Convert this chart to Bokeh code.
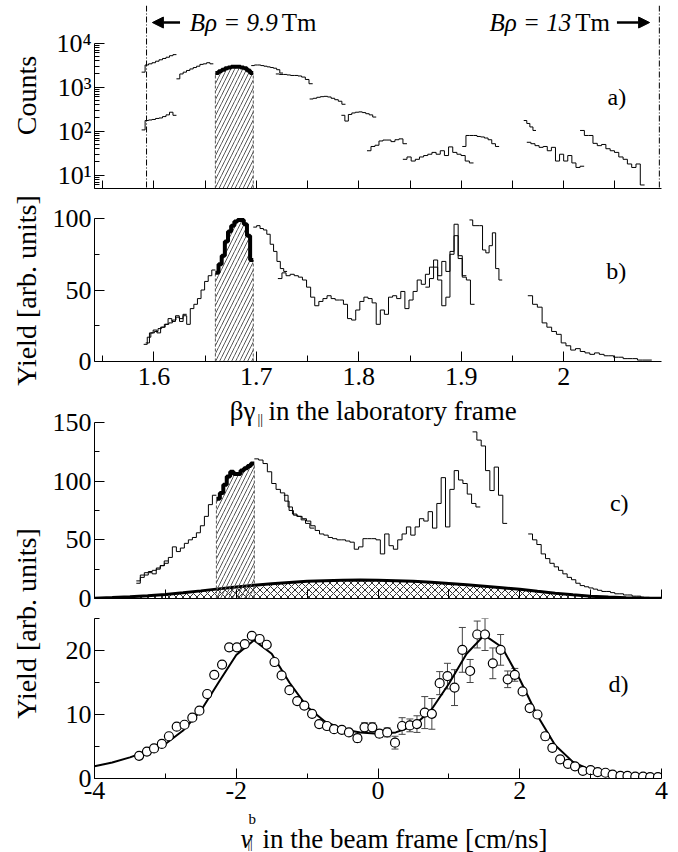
import math
import numpy as np
from bokeh.plotting import figure
from bokeh.layouts import row, column
from bokeh.models import (Range1d, FixedTicker, Span, Arrow, NormalHead,
                          Whisker, TeeHead, ColumnDataSource)
from bokeh.core.properties import value
from bokeh.embed import file_html
from bokeh.resources import INLINE

FONT = "Liberation Serif"

# ---------------- data ----------------
# x ticks (beta*gamma)
bg_major = [1.6, 1.7, 1.8, 1.9, 2.0]
bg_minor = [1.55, 1.65, 1.75, 1.85, 1.95, 2.05]
bg_all = [1.55, 1.6, 1.65, 1.7, 1.75, 1.8, 1.85, 1.9, 1.95, 2.0, 2.05]
bg_labels = ["1.6", "1.7", "1.8", "1.9", "2"]
brho_lines = [1.5928, 2.0934]

# panel a: counts, segments (x start, x end) and bin contents
a1_x = (1.588, 1.622); a1_y = [2200, 3200, 3400, 3600, 3900, 4200, 4500, 4800, 5200, 5500]
a2_x = (1.588, 1.622); a2_y = [107, 175, 180, 185, 195, 200, 215, 235, 270, 230]
a3_x = (1.622, 1.658); a3_y = [1550, 2000, 2200, 2400, 2600, 2800, 3000, 3300, 3400, 3600, 3400]
a_sel_x = (1.660, 1.697); a_sel_y = [2100, 2300, 2500, 2700, 2800, 2900, 2900, 2900, 2800, 2700, 2400, 2100]
a4_x = (1.695, 1.726); a4_y = [3100, 3200, 3200, 3100, 3000, 2900, 2800, 2700, 2500, 2100]
a5_x = (1.719, 1.755); a5_y = [2000, 1950, 1950, 1900, 1850, 1850, 1800, 1700, 1500, 1200]
a6_x = (1.752, 1.787); a6_y = [540, 560, 590, 610, 620, 600, 560, 520, 480, 410]
a7_x = (1.783, 1.817); a7_y = [230, 170, 240, 260, 270, 275, 265, 250, 235, 210]
a8_x = (1.808, 1.847); a8_y = [36, 45, 48, 60, 63, 63, 58, 64, 67, 52]
a9_x = (1.843, 1.912); a9_y = [23, 26, 21, 23, 26, 28, 30, 33, 30, 36, 28, 44, 33, 30, 28, 21, 19]
a10_x = (1.901, 1.937); a10_y = [45, 80, 80, 80, 76, 74, 70, 64, 52, 45]
a11_x = (1.961, 1.973); a11_y = [175, 150, 125, 104]
a12_x = (1.964, 2.020); a12_y = [56, 52, 47, 43, 45, 36, 43, 21, 30, 21, 28, 19, 15, 16]
a13_x = (2.016, 2.079); a13_y = [104, 80, 80, 53, 47, 50, 40, 36, 33, 26, 23, 18, 15, 18, 6]
a_thin = [(a1_x, a1_y), (a2_x, a2_y), (a3_x, a3_y), (a4_x, a4_y), (a5_x, a5_y),
          (a6_x, a6_y), (a7_x, a7_y), (a8_x, a8_y), (a9_x, a9_y), (a10_x, a10_y),
          (a11_x, a11_y), (a12_x, a12_y), (a13_x, a13_y)]

# panel b: yield vs beta*gamma
b1_x = (1.590, 1.660); b1_y = [12, 17, 20, 21, 23, 24, 26, 27, 29, 31, 28, 32, 26, 37, 40, 44, 50, 56, 60, 64]
b1b_x = (1.592, 1.632); b1b_y = [13, 20, 22, 20, 24, 26, 30, 28, 32, 30, 33]
b_sel_x = (1.660, 1.697); b_sel_y = [62, 68, 74, 84, 91, 95, 98, 99, 99, 96, 88, 71]
b2_x = (1.697, 1.730); b2_y = [94, 95, 93, 92, 89, 82, 77, 70, 65, 63]
b3_x = (1.721, 1.913); b3_y = [58, 62, 60, 61, 60, 59, 57, 52, 45, 39, 42, 44, 46, 44, 43, 43,
                               40, 30, 29, 36, 42, 45, 44, 41, 26, 36, 33, 45, 46, 44, 49, 37,
                               43, 49, 57, 54, 61, 66, 71, 57, 39, 45, 77, 96, 74, 59, 57, 40]
b4_x = (1.908, 1.940); b4_y = [99, 95, 95, 95, 78, 76, 81, 90, 65, 57]
b5_x = (1.865, 1.905); b5_y = [52, 58, 66, 60, 70, 63, 75, 88, 72, 60]
b6_x = (1.965, 2.086); b6_y = [46, 40, 38, 27, 24, 21, 19, 13, 11, 8, 9, 7, 6, 5, 6, 5, 4, 4,
                               3, 3, 2, 2, 2, 1, 1, 1]
b_thin = [(b1_x, b1_y), (b1b_x, b1b_y), (b2_x, b2_y), (b3_x, b3_y), (b4_x, b4_y),
          (b5_x, b5_y), (b6_x, b6_y)]

# panel c: yield vs beam-frame velocity
c1_x = (-3.41, -2.28); c1_y = [15, 20, 22, 23, 24, 26, 28, 30, 35, 44, 40, 43, 47, 50, 52, 56, 62, 70, 80, 88]
c1b_x = (-3.41, -2.96); c1b_y = [13, 18, 20, 22, 21, 25, 28, 32]
c_sel_x = (-2.28, -1.745); c_sel_y = [85, 90, 97, 104, 108, 106, 106, 109, 111, 113, 115]
c2_x = (-1.745, 1.443); c2_y = [119, 118, 115, 108, 98, 93, 90, 83, 75, 71, 70, 68, 66, 62, 58,
                                55, 54, 52, 51, 50, 50, 49, 48, 42, 44, 51, 51, 51, 50, 38, 55,
                                45, 42, 50, 55, 61, 54, 61, 68, 66, 74, 60, 81, 103, 61, 93,
                                109, 101, 98, 89, 81, 78]
c2b_x = (-1.33, -0.90); c2b_y = [88, 78, 72, 70, 67, 64, 60]
c3_x = (1.334, 1.822); c3_y = [142, 135, 130, 109, 92, 112, 88, 64]
c4_x = (2.119, 3.83); c4_y = [55, 50, 46, 38, 34, 30, 27, 24, 21, 18, 16, 13, 11, 10, 9, 8, 7,
                              6, 6, 5, 4, 4, 3, 3, 2, 2, 1, 1]
c_thin = [(c1_x, c1_y), (c1b_x, c1b_y), (c2_x, c2_y), (c2b_x, c2b_y), (c3_x, c3_y), (c4_x, c4_y)]

g_v = [-4.0, -3.75, -3.5, -3.25, -3.0, -2.75, -2.5, -2.25, -2.0, -1.75, -1.5, -1.25, -1.0,
       -0.75, -0.5, -0.25, 0.0, 0.25, 0.5, 0.75, 1.0, 1.25, 1.5, 1.75, 2.0, 2.25, 2.5, 2.75,
       3.0, 3.25, 3.5, 3.75, 4.0]
g_y = [0.3, 0.8, 1.5, 2.4, 3.5, 4.9, 6.5, 8.2, 9.8, 11.2, 12.5, 13.7, 14.6, 15.2, 15.6, 15.7,
       15.6, 15.2, 14.6, 13.8, 12.8, 11.7, 10.5, 9.2, 7.8, 6.1, 4.5, 3.1, 2.0, 1.2, 0.7, 0.4, 0.2]

# panel d: data points, errors and fit
d_v = [-3.37, -3.26, -3.16, -3.05, -2.95, -2.84, -2.73, -2.62, -2.52, -2.41, -2.31, -2.20,
       -2.10, -1.99, -1.88, -1.78, -1.67, -1.57, -1.46, -1.36, -1.25, -1.14, -1.04, -0.93,
       -0.83, -0.72, -0.62, -0.51, -0.41, -0.29, -0.19, -0.08, 0.02, 0.13, 0.24, 0.34, 0.45,
       0.55, 0.66, 0.76, 0.87, 0.98, 1.08, 1.19, 1.30, 1.40, 1.51, 1.62, 1.73, 1.83, 1.93,
       2.04, 2.14, 2.25, 2.36, 2.46, 2.57, 2.68, 2.78, 2.89, 3.00, 3.10, 3.21, 3.31, 3.42,
       3.52, 3.63, 3.74, 3.84, 3.95]
d_y = [3.55, 4.2, 4.7, 5.4, 6.6, 8.1, 8.4, 9.5, 10.6, 13.2, 16.2, 17.8, 20.5, 20.5, 21.0,
       22.3, 21.8, 20.9, 18.2, 16.1, 13.8, 12.1, 11.4, 10.1, 8.5, 8.2, 7.7, 7.6, 7.2, 6.3,
       8.0, 8.0, 7.0, 7.2, 5.6, 8.2, 8.3, 8.5, 10.3, 10.1, 14.9, 16.0, 14.2, 20.1, 16.8,
       22.5, 22.5, 18.0, 20.1, 15.5, 16.2, 13.6, 11.0, 10.0, 6.6, 4.8, 3.0, 2.3, 1.9, 1.2,
       1.3, 1.0, 0.9, 0.6, 0.4, 0.4, 0.3, 0.3, 0.2, 0.2]
d_err = [0, 0, 0, 0, 0, 0, 0, 0, 0, 0, 0, 0, 0, 0, 0, 0, 0, 0, 0, 0, 0, 0, 0, 0, 0, 0, 0,
         0, 0, 0.6, 0.7, 0.7, 0.6, 0.7, 1.0, 1.3, 1.0, 1.3, 2.5, 2.4, 1.8, 2.0, 2.8, 3.5,
         1.8, 2.1, 2.5, 2.4, 2.4, 1.3, 1.0, 0.4, 0.5, 0.5, 0.6, 0.5, 0.4, 0, 0, 0, 0, 0, 0,
         0, 0, 0, 0, 0, 0, 0]
fit_v = g_v
fit_y = [1.9, 2.5, 3.3, 4.3, 5.4, 7.5, 10.6, 15.0, 19.3, 21.6, 19.5, 15.0, 11.2, 8.9, 7.7,
         7.2, 7.0, 7.2, 8.2, 10.7, 14.8, 19.5, 22.4, 20.5, 15.5, 9.8, 5.2, 2.6, 1.3, 0.7,
         0.4, 0.2, 0.1]

v_major = [-4, -2, 0, 2, 4]
v_minor = [-3, -1, 1, 3]
v_all = [-4, -3, -2, -1, 0, 1, 2, 3, 4]

# ---------------- helpers ----------------
W = 624
LB = 48   # left border of the plot column
RB = 9    # right border


def make_fig(h, xr, yr, top, bottom, y_type="linear"):
    p = figure(width=W, height=h, x_range=xr, y_range=yr, y_axis_type=y_type,
               output_backend="svg", toolbar_location=None, title=None,
               min_border_left=LB, min_border_right=RB, min_border_top=top,
               min_border_bottom=bottom)
    p.outline_line_color = None
    p.xgrid.visible = False
    p.ygrid.visible = False
    for ax in p.axis:
        ax.major_tick_in = 10
        ax.major_tick_out = 0
        ax.minor_tick_in = 5
        ax.minor_tick_out = 0
        ax.axis_line_color = "black"
        ax.major_tick_line_color = "black"
        ax.minor_tick_line_color = "black"
        ax.major_label_text_font = FONT
        ax.major_label_text_font_size = "26px"
        ax.major_label_text_color = "black"
        ax.major_label_standoff = 3
    return p


def edges(xr, vals):
    return np.linspace(xr[0], xr[1], len(vals) + 1)


def hist(p, xr, vals, width=1.0):
    e = edges(xr, vals)
    p.step(e, list(vals) + [vals[-1]], mode="after", line_color="black", line_width=width)


def selection(p, xr, vals, base):
    e = edges(xr, vals)
    p.quad(left=e[:-1], right=e[1:], bottom=base, top=vals, fill_color=None, line_color=None,
           hatch_pattern="/", hatch_color="#555555", hatch_scale=8, hatch_weight=1)
    p.segment(x0=[e[0], e[-1]], y0=[base, base], x1=[e[0], e[-1]], y1=[vals[0], vals[-1]],
              line_color="#555555", line_dash="3 2", line_width=1)
    p.step(e, list(vals) + [vals[-1]], mode="after", line_color="black", line_width=4)


def txt(p, x, y, s, size="24px", align="left", style="normal", baseline="middle"):
    p.text(x=[x], y=[y], text=[s], text_font=value(FONT), text_font_size=size,
           text_align=align, text_baseline=baseline, text_font_style=style, text_color="black")


def text_fig(w, h, x0, x1, y0, y1, left=0, right=0):
    f = figure(width=w, height=h, x_range=Range1d(x0, x1), y_range=Range1d(y1, y0),
               x_axis_type=None, y_axis_type=None, output_backend="svg",
               toolbar_location=None, title=None, min_border_left=left,
               min_border_right=right, min_border_top=0, min_border_bottom=0)
    f.outline_line_color = None
    f.xgrid.visible = False
    f.ygrid.visible = False
    return f


# ---------------- panel a ----------------
xr_ab = Range1d(1.542, 2.0955)
pa = make_fig(190, xr_ab, Range1d(4.99, 71950), top=5, bottom=2, y_type="log")
pa.xaxis.ticker = FixedTicker(ticks=[], minor_ticks=bg_all)
pa.xaxis.minor_tick_in = 8
pa.yaxis.ticker = FixedTicker(ticks=[10, 100, 1000, 10000],
                              minor_ticks=[5, 6, 7, 8, 9, 20, 30, 40, 50, 60, 70, 80, 90,
                                           200, 300, 400, 500, 600, 700, 800, 900,
                                           2000, 3000, 4000, 5000, 6000, 7000, 8000, 9000])
pa.yaxis.major_label_overrides = {10: "10¹", 100: "10²", 1000: "10³", 10000: "10⁴"}
pa.yaxis.bounds = (4.99, 10000)
for xl in brho_lines:
    pa.add_layout(Span(location=xl, dimension="height", line_color="black",
                       line_dash="6 2 1 2", line_width=1))
selection(pa, a_sel_x, a_sel_y, 4.99)
for xr, vals in a_thin:
    hist(pa, xr, vals)
pa.add_layout(Arrow(end=NormalHead(size=11, fill_color="black", line_color="black"),
                    x_start=1.6255, y_start=29500, x_end=1.5985, y_end=29500, line_width=2.5))
pa.add_layout(Arrow(end=NormalHead(size=11, fill_color="black", line_color="black"),
                    x_start=2.052, y_start=29500, x_end=2.0839, y_end=29500, line_width=2.5))
txt(pa, 1.635, 29500, "Bρ = 9.9", size="25px", style="italic")
txt(pa, 1.7247, 29500, "Tm", size="25px")
txt(pa, 2.0073, 29500, "Bρ = 13", size="25px", align="right", style="italic")
txt(pa, 2.0112, 29500, "Tm", size="25px")
txt(pa, 2.061, 590, "a)", align="right")

# ---------------- panel b ----------------
pb = make_fig(207, xr_ab, Range1d(0, 118.2), top=2, bottom=36)
pb.xaxis.ticker = FixedTicker(ticks=bg_major, minor_ticks=bg_minor)
pb.xaxis.minor_tick_in = 6
pb.xaxis.major_label_overrides = dict(zip(bg_major, bg_labels))
pb.xaxis.major_label_standoff = 6
pb.yaxis.ticker = FixedTicker(ticks=[0, 50, 100], minor_ticks=[25, 75])
pb.yaxis.bounds = (0, 100)
selection(pb, b_sel_x, b_sel_y, 0)
for xr, vals in b_thin:
    hist(pb, xr, vals)
txt(pb, 2.061, 63.6, "b)", align="right")

# ---------------- panel c (frame also holds the x title of panel b) ----------------
pc = make_fig(215, Range1d(-4, 4), Range1d(0, 171.3), top=0, bottom=14)
pc.xaxis.ticker = FixedTicker(ticks=[], minor_ticks=v_all)
pc.xaxis.minor_tick_in = 9
pc.yaxis.ticker = FixedTicker(ticks=[0, 50, 100, 150], minor_ticks=[25, 75, 125])
pc.yaxis.bounds = (0, 150)
pc.varea(x=g_v, y1=0, y2=g_y, fill_color=None, hatch_pattern="x", hatch_color="black",
         hatch_scale=7, hatch_weight=0.8)
pc.line(g_v, g_y, line_color="black", line_width=3)
selection(pc, c_sel_x, c_sel_y, 0)
for xr, vals in c_thin:
    hist(pc, xr, vals)
txt(pc, 3.535, 81.8, "c)", align="right")
txt(pc, -1.7284, 160.2, "βγ", size="27px", align="right", baseline="alphabetic")
txt(pc, -1.7002, 152.6, "||", size="14px", align="left", baseline="middle")
txt(pc, -1.545, 160.2, "in the laboratory frame", size="27px", align="left",
    baseline="alphabetic")

# ---------------- panel d ----------------
pd = make_fig(198, Range1d(-4, 4), Range1d(0, 25), top=6, bottom=32)
pd.xaxis.ticker = FixedTicker(ticks=v_major, minor_ticks=v_minor)
pd.xaxis.major_label_overrides = {-4: "-4", -2: "-2", 0: "0", 2: "2", 4: "4"}
pd.xaxis.major_label_standoff = 3
pd.yaxis.ticker = FixedTicker(ticks=[0, 10, 20], minor_ticks=[5, 15, 25])
pd.line(fit_v, fit_y, line_color="black", line_width=2)
ev = [(v, y, e) for v, y, e in zip(d_v, d_y, d_err) if e > 0]
err_src = ColumnDataSource(dict(x=[t[0] for t in ev], upper=[t[1] + t[2] for t in ev],
                                lower=[t[1] - t[2] for t in ev]))
pd.add_layout(Whisker(source=err_src, base="x", upper="upper", lower="lower",
                      dimension="height", line_color="#444444", line_width=1,
                      upper_head=TeeHead(size=7, line_color="#444444"),
                      lower_head=TeeHead(size=7, line_color="#444444")))
pd.scatter(d_v, d_y, marker="circle", size=9, fill_color="white", line_color="black",
           line_width=1.2)
txt(pd, 3.535, 14.8, "d)", align="right")

# ---------------- x title of panel d (page-pixel coordinates) ----------------
pe = text_fig(W, 42, 94, 661, 810, 852, left=LB, right=RB)
txt(pe, 252, 838, "v", size="27px", align="right", style="italic", baseline="alphabetic")
txt(pe, 248, 818, "b", size="15px", align="left")
txt(pe, 247, 843, "||", size="13px", align="left")
txt(pe, 262, 838, "in the beam frame [cm/ns]", size="27px", align="left",
    baseline="alphabetic")

# ---------------- y titles column ----------------
pl = text_fig(46, 852, 0, 46, 0, 852)
pl.text(x=[26, 26, 26], y=[95, 290, 623],
        text=["Counts", "Yield [arb. units]", "Yield [arb. units]"],
        angle=math.pi / 2, text_align="center", text_baseline="middle",
        text_font=value(FONT), text_font_size="28px", text_color="black")

layout = row(pl, column(pa, pb, pc, pd, pe))
open("out.html", "w").write(file_html(layout, INLINE))
